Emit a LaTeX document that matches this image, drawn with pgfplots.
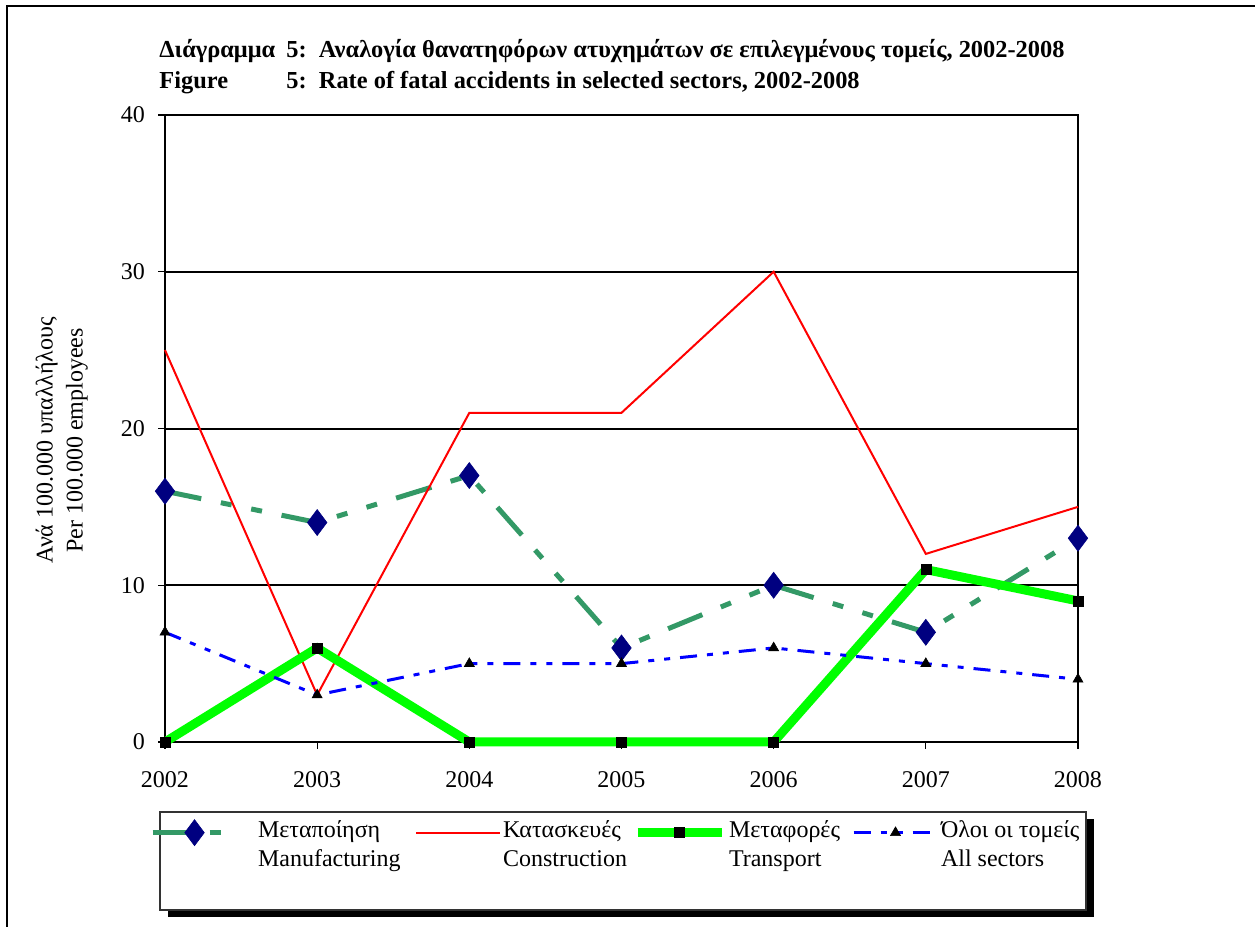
\documentclass[border=0pt]{standalone}
\usepackage{fontspec}
\setmainfont{Liberation Serif}
\usepackage{pgfplots}
\pgfplotsset{compat=1.18}
\definecolor{mfg}{HTML}{339966}
\definecolor{navyb}{HTML}{000080}
\definecolor{lime}{HTML}{00FF00}
\definecolor{bl}{HTML}{0000FF}
\newcommand{\lentry}[3]{\hspace*{#1}\makebox[#2][l]{\begin{tabular}[t]{@{}l@{}}#3\end{tabular}}}
\begin{document}
\begin{tikzpicture}
\useasboundingbox (0,0) rectangle (627.5pt,463.5pt);
% outer frame
\draw[line width=1.2pt] (3.5pt,-3pt) -- (3.5pt,460.5pt) -- (632pt,460.5pt);
% title
\node[anchor=base west, font=\fontsize{12.2}{14}\selectfont\bfseries, inner sep=0pt] at (79.5pt,434.5pt) {Διάγραμμα};
\node[anchor=base west, font=\fontsize{12.2}{14}\selectfont\bfseries, inner sep=0pt] at (143pt,434.5pt) {5:\ \ Αναλογία θανατηφόρων ατυχημάτων σε επιλεγμένους τομείς, 2002-2008};
\node[anchor=base west, font=\fontsize{12.2}{14}\selectfont\bfseries, inner sep=0pt] at (79.5pt,419pt) {Figure};
\node[anchor=base west, font=\fontsize{12.2}{14}\selectfont\bfseries, inner sep=0pt] at (143pt,419pt) {5:\ \ Rate of fatal accidents in selected sectors, 2002-2008};
% legend box with shadow
\fill[black] (84pt,5pt) rectangle (547pt,54pt);
\draw[fill=white, line width=0.7pt, draw=black!80] (80pt,8.5pt) rectangle (543pt,57.5pt);
\begin{axis}[
  scale only axis,
  width=456.5pt, height=313.5pt,
  at={(82.5pt,92.5pt)}, anchor=south west,
  xmin=2002, xmax=2008, ymin=0, ymax=40,
  xtick={2002,2003,2004,2005,2006,2007,2008},
  ytick={0,10,20,30,40},
  tick pos=left,
  tick align=outside,
  major tick length=3.5pt,
  every tick/.style={black, line width=0.6pt},
  ymajorgrids,
  major grid style={black, line width=1pt},
  axis line style={black, line width=1pt},
  /pgf/number format/assume math mode=true,
  /pgf/number format/1000 sep={},
  tick label style={font=\fontsize{12}{14}\selectfont},
  xticklabel style={yshift=-7.5pt},
  yticklabel style={xshift=-3pt},
  every axis y label/.style={at={(axis description cs:-0.113,0.481)}, anchor=center, rotate=90, align=center, font=\fontsize{12}{15}\selectfont},
  ylabel={Ανά 100.000 υπαλλήλους\\Per 100.000 employees},
  clip=false,
  legend columns=4,
  legend style={at={(axis description cs:-0.0164,-0.1196)}, anchor=north west, draw=none, fill=none, inner sep=0pt, outer sep=0pt, font=\fontsize{12}{14.5}\selectfont, nodes={inner sep=0pt, text depth=0pt}, cells={anchor=mid west}, column sep=0pt, row sep=0pt},
  legend image code/.code={\draw[mark repeat=2,mark phase=2] plot coordinates {(0pt,0pt) (21pt,0pt) (42pt,0pt)};},
]
\addplot[mfg, line width=2.5pt, dash pattern=on 18.5pt off 10pt on 5.5pt off 10pt on 5.5pt off 10pt,
  mark=diamond*, mark size=6.5pt, mark options={solid, fill=navyb, draw=navyb, line width=0.3pt}]
  coordinates {(2002,16) (2003,14) (2004,17) (2005,6) (2006,10) (2007,7) (2008,13)};
\addlegendentry{\lentry{9.5pt}{78.5pt}{Μεταποίηση\\Manufacturing}}
\addplot[red, line width=1pt, no marks]
  coordinates {(2002,25) (2003,3) (2004,21) (2005,21) (2006,30) (2007,12) (2008,15)};
\addlegendentry{\lentry{1pt}{65pt}{Κατασκευές\\Construction}}
\addplot[lime, line width=4.5pt, mark=square*, mark size=2.5pt, mark options={solid, fill=black, draw=black, line width=0.3pt}]
  coordinates {(2002,0) (2003,6) (2004,0) (2005,0) (2006,0) (2007,11) (2008,9)};
\addlegendentry{\lentry{1.5pt}{61.5pt}{Μεταφορές\\Transport}}
\addplot[bl, line width=1.5pt, dash pattern=on 8.5pt off 5pt on 3pt off 5pt on 3pt off 5pt,
  mark=triangle*, mark size=2.9pt, mark options={solid, fill=black, draw=black, line width=0.3pt}]
  coordinates {(2002,7) (2003,3) (2004,5) (2005,5) (2006,6) (2007,5) (2008,4)};
\addlegendentry{\lentry{1pt}{72pt}{Όλοι οι τομείς\\All sectors}}
\end{axis}
\end{tikzpicture}
\end{document}
